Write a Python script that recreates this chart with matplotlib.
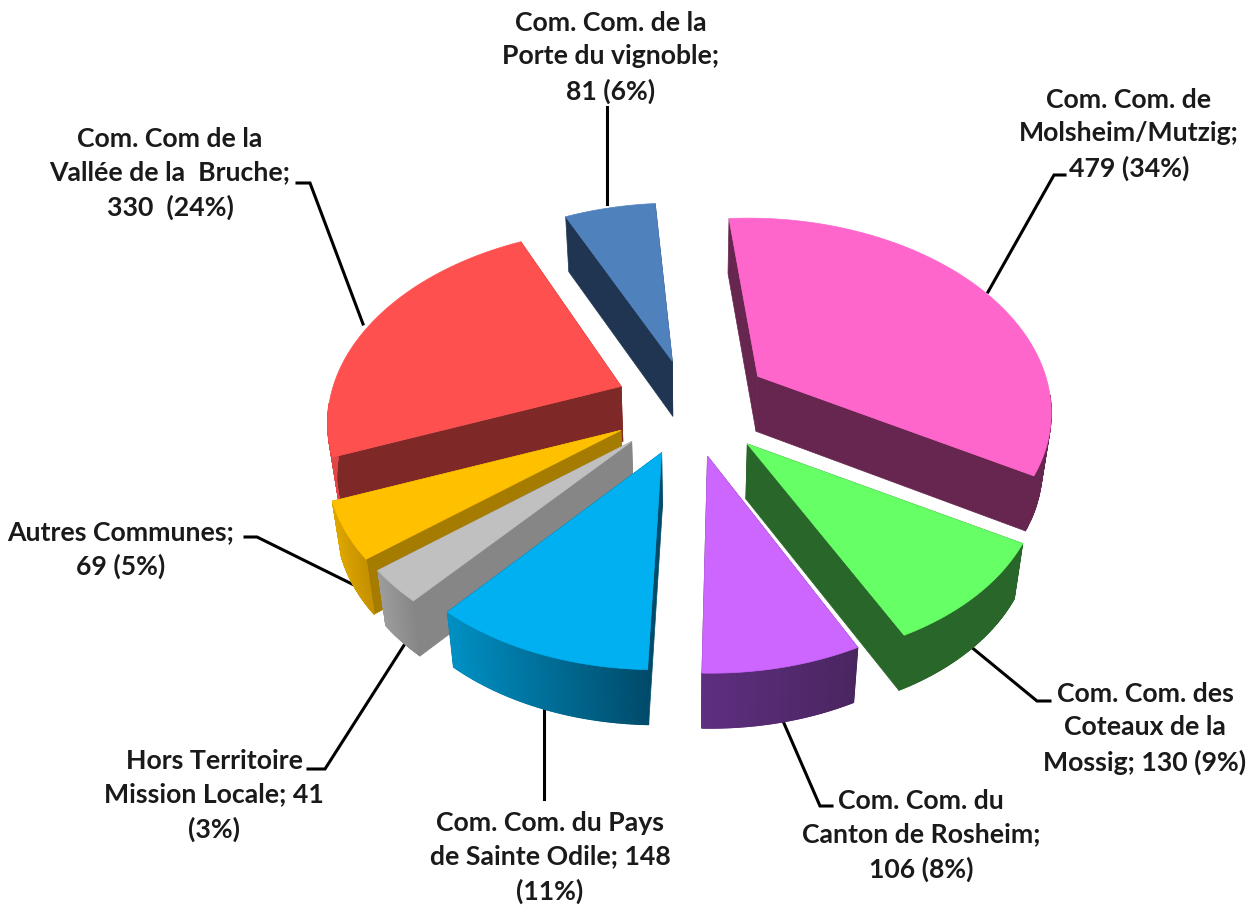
"""Exploded 3D pie of young people per Communauté de Communes."""
import numpy as np
import matplotlib
matplotlib.use("Agg")
import matplotlib.pyplot as plt
from matplotlib.collections import PolyCollection
from matplotlib.colors import to_rgb
from matplotlib.patches import Polygon

# --- data (clockwise from the top) ---
names = [
    "Com. Com. de\nMolsheim/Mutzig;",
    "Com. Com. des\nCoteaux de la\nMossig;",
    "Com. Com. du\nCanton de Rosheim;",
    "Com. Com. du Pays\nde Sainte Odile;",
    "Hors Territoire\nMission Locale;",
    "Autres Communes;",
    "Com. Com de la\nVallée de la  Bruche;",
    "Com. Com. de la\nPorte du vignoble;",
]
values = [479, 130, 106, 148, 41, 69, 330, 81]
percents = [34, 9, 8, 11, 3, 5, 24, 6]

# --- styles, same order as values ---
top_colors = ["#FF66CC", "#66FF66", "#CC66FF", "#00B0F0", "#C0C0C0", "#FFC000", "#FF5050", "#4F81BD"]
wall_colors = ["#66264F", "#296629", "#4A2660", "#004B6A", "#868686", "#A67C00", "#7F2828", "#1F3552"]
rim_left = ["#66264F", "#296629", "#5E2E80", "#0090C4", "#9C9C9C", "#DDA600", "#E04848", "#1F3552"]
rim_right = ["#66264F", "#296629", "#4A2660", "#004B6A", "#868686", "#C49000", "#7F2828", "#1F3552"]
explode = [80, 84, 82, 80, 82, 80, 74, 68]
draw_order = [7, 6, 0, 5, 1, 4, 2, 3]

# --- projection of the pie, in figure pixels ---
CX, CY = 690, 405
RADIUS = 288
KY_RIM = 183 / 288     # flattening of the disc
KY_EXPLODE = 0.65
PERSP = 0.157
DEPTH = 55
SHRINK = 0.975
START = -4.5

# label text anchor (centre x, top y), leader line
label_pos = [(1129, 88), (1145, 682), (921, 789), (550, 811), (214, 749), (121, 520), (170, 127), (611, 11)]
leaders = [
    [(1065, 176), (1054, 176), (988, 293)],
    [(1050, 702), (1037, 702), (970, 647)],
    [(832, 807), (820, 807), (783, 722)],
    [(544, 800), (544, 708)],
    [(308, 770), (325, 770), (408, 640)],
    [(245, 538), (257, 538), (354, 586)],
    [(297, 184), (310, 184), (363, 325)],
    [(607, 108), (607, 205)],
]


def rim_point(apex, theta):
    # lines running back converge on the pie's centre column
    t = np.radians(theta)
    d = 1 + PERSP * np.cos(t)
    return CX + (apex[0] - CX + RADIUS * np.sin(t)) / d, apex[1] - RADIUS * KY_RIM * np.cos(t) / d


def lower(pts):
    pts = np.atleast_2d(pts)
    return np.column_stack([CX + (pts[:, 0] - CX) * SHRINK, pts[:, 1] + DEPTH])


def draw_slice(ax, i, a0, a1, z):
    mid = np.radians((a0 + a1) / 2)
    apex = (CX + explode[i] * np.sin(mid), CY - KY_EXPLODE * explode[i] * np.cos(mid))
    angles = np.linspace(a0, a1, 160)
    arc = np.array([rim_point(apex, a) for a in angles])

    # the two cut faces, furthest first
    edges = sorted([arc[0], arc[-1]], key=lambda p: p[1])
    for p in edges:
        quad = np.vstack([[apex], [p], lower(p), lower(apex)])
        ax.add_patch(Polygon(quad, closed=True, fc=wall_colors[i], ec=wall_colors[i], lw=0.5, zorder=z))

    # outer wall, only the part facing the viewer
    lo, hi = to_rgb(rim_left[i]), to_rgb(rim_right[i])
    low = lower(arc)
    quads, cols = [], []
    xmin, xmax = arc[:, 0].min(), arc[:, 0].max()
    for j in range(len(arc) - 1):
        if np.cos(np.radians(angles[j])) > -0.1:
            continue
        quads.append([arc[j], arc[j + 1], low[j + 1], low[j]])
        f = (arc[j, 0] - xmin) / max(xmax - xmin, 1)
        cols.append(tuple(np.array(lo) * (1 - f) + np.array(hi) * f))
    if quads:
        ax.add_collection(PolyCollection(quads, facecolors=cols, edgecolors=cols, linewidths=0.8, zorder=z + 0.1))

    top = np.vstack([[apex], arc])
    ax.add_patch(Polygon(top, closed=True, fc=top_colors[i], ec=top_colors[i], lw=0.5, zorder=z + 0.2))


def main():
    plt.rcParams["font.family"] = ["Lato", "DejaVu Sans"]
    fig = plt.figure(figsize=(12.54, 9.12), dpi=100)
    ax = fig.add_axes([0, 0, 1, 1])
    ax.set_xlim(0, 1254)
    ax.set_ylim(912, 0)
    ax.axis("off")

    total = sum(values)
    edges = START + 360 * np.cumsum([0] + values) / total
    for z, i in enumerate(draw_order):
        draw_slice(ax, i, edges[i], edges[i + 1], 2 + z)

    for path in leaders:
        xs, ys = zip(*path)
        ax.plot(xs, ys, color="black", lw=2.2, zorder=1, solid_joinstyle="miter")

    texts = [
        f"{names[0]}\n{values[0]} ({percents[0]}%)",
        f"{names[1]} {values[1]} ({percents[1]}%)",
        f"{names[2]}\n{values[2]} ({percents[2]}%)",
        f"{names[3]} {values[3]}\n({percents[3]}%)",
        f"{names[4]} {values[4]}\n({percents[4]}%)",
        f"{names[5]}\n{values[5]} ({percents[5]}%)",
        f"{names[6]}\n{values[6]}  ({percents[6]}%)",
        f"{names[7]}\n{values[7]} ({percents[7]}%)",
    ]
    for (x, y), s in zip(label_pos, texts):
        ax.text(x, y, s, ha="center", va="top", fontsize=19.2, fontweight="bold",
                color="#1a1a1a", linespacing=1.47)

    fig.savefig("out.png", dpi=100)


if __name__ == "__main__":
    main()
